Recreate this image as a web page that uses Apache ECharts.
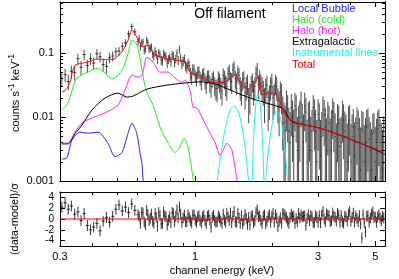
<!DOCTYPE html>
<html><head><meta charset="utf-8">
<script src="https://cdn.jsdelivr.net/npm/echarts@6/dist/echarts.min.js"></script>
<style>html,body{margin:0;padding:0;background:#fff}#c{width:399px;height:279px}</style>
</head><body><div id="c"></div>
<script>
// ---- axis ranges and ticks ----
const xRange = [0.3, 5.45];
const yRange = [0.001, 0.63];
const resRange = [-5, 5];
const xTickValues = [0.3, 1, 3, 5];
const xTickLabels = ['0.3', '1', '3', '5'];
const xMinorTicks = [0.4, 0.5, 0.6, 0.7, 0.8, 0.9, 2, 4];
const yTickValues = [0.001, 0.01, 0.1];
const yTickLabels = ['0.001', '0.01', '0.1'];
const yMinorTicks = [0.002,0.003,0.004,0.005,0.006,0.007,0.008,0.009,0.02,0.03,0.04,0.05,0.06,0.07,0.08,0.09,0.2,0.3,0.4,0.5,0.6];
const resTickValues = [-4, -2, 0, 2, 4];
const resTickLabels = ['-4', '-2', '0', '2', '4'];
const resZero = 0;

// ---- model components (energy keV, counts/s/keV) ----
const lbE = [0.305,0.319,0.334,0.359,0.385,0.421,0.460,0.490,0.522,0.550,0.570,0.590,0.602,0.613,0.624,0.629,0.640];
const lbV = [0.0022,0.0023,0.0044,0.0058,0.0056,0.0058,0.0039,0.0024,0.0028,0.0055,0.0080,0.0062,0.0044,0.0027,0.0018,0.0011,0.0006];
const hcE = [0.305,0.322,0.334,0.349,0.385,0.421,0.448,0.477,0.522,0.551,0.570,0.597,0.629,0.641,0.658,0.688,0.732,0.787,0.837,0.875,0.907,0.940,0.983,1.0];
const hcV = [0.0129,0.0166,0.0264,0.0407,0.0505,0.0583,0.0487,0.0393,0.0542,0.100,0.160,0.133,0.045,0.030,0.022,0.0155,0.0070,0.0039,0.0028,0.0034,0.0047,0.0034,0.0011,0.0006];
const hhE = [0.305,0.322,0.343,0.365,0.399,0.448,0.503,0.536,0.570,0.602,0.624,0.652,0.688,0.732,0.787,0.837,0.891,0.916,0.957,0.983,1.019,1.066,1.144,1.197,1.251,1.332,1.368,1.393,1.456,1.48];
const hhV = [0.0039,0.0039,0.0058,0.0081,0.0097,0.0116,0.0154,0.0264,0.0453,0.0422,0.0453,0.0866,0.0723,0.0505,0.0505,0.0407,0.0352,0.0379,0.0264,0.0143,0.0138,0.0098,0.0056,0.0040,0.0025,0.0039,0.0034,0.0030,0.00104,0.0007];
const egE = [0.305,0.322,0.343,0.365,0.399,0.448,0.503,0.546,0.570,0.586,0.652,0.779,0.907,1.047,1.197,1.368,1.635,1.955,2.176,2.230,2.296,2.337,2.444,2.555,3.054,3.651,4.365,5.08,5.45];
const egV = [0.0038,0.0038,0.0055,0.0075,0.0129,0.0198,0.0237,0.0205,0.0210,0.0220,0.0274,0.0316,0.0340,0.0355,0.0330,0.0265,0.0198,0.0160,0.0138,0.0125,0.0100,0.0090,0.0081,0.0078,0.0067,0.0052,0.0039,0.0030,0.0026];
const ilE = [1.190,1.218,1.258,1.298,1.338,1.378,1.418,1.458,1.498,1.538,1.578,1.618,1.656,1.681,1.706,1.731,1.756,1.781,1.806,1.831,1.856,1.860,1.900,1.940,1.980,2.020,2.060,2.100,2.140,2.180,2.220,2.260,2.300];
const ilV = [0.0003,0.00094,0.0025,0.0055,0.0096,0.0133,0.0149,0.0133,0.0096,0.0055,0.0025,0.00094,0.00075,0.0034,0.010,0.019,0.0237,0.019,0.010,0.0034,0.00075,0.00068,0.0018,0.0038,0.0068,0.0100,0.0121,0.0121,0.0100,0.0068,0.0038,0.0018,0.00068];
const totE = [0.305,0.319,0.328,0.343,0.382,0.421,0.460,0.481,0.522,0.551,0.570,0.590,0.613,0.630,0.652,0.700,0.766,0.837,0.916,0.957,1.047,1.197,1.308,1.380,1.430,1.470,1.523,1.606,1.700,1.756,1.790,1.820,1.920,2.044,2.137,2.235,2.330,2.444,2.555,3.054,3.651,4.365,5.08,5.45];
const totV = [0.024,0.028,0.035,0.064,0.072,0.081,0.079,0.080,0.105,0.16,0.23,0.19,0.143,0.125,0.133,0.093,0.0835,0.0778,0.0723,0.0505,0.044,0.034,0.0352,0.042,0.0453,0.040,0.0316,0.0274,0.033,0.0422,0.032,0.0221,0.0237,0.0237,0.0172,0.0108,0.0092,0.0084,0.0078,0.0067,0.0052,0.0039,0.0031,0.0026];

// ---- observed spectrum: bin energy, rate, 1-sigma error ----
const dataE = [
0.305,0.314,0.323,0.332,0.342,0.352,0.362,0.372,0.383,0.394,0.405,0.417,0.429,0.441,0.454,0.467,0.480,0.494,0.508,0.523,0.538,0.553,0.569,0.585,0.602,
0.608,0.615,0.622,0.629,0.636,0.643,0.650,0.657,0.664,0.671,0.678,0.686,0.693,0.701,0.708,0.716,0.724,0.732,0.740,0.748,0.756,0.764,0.772,0.781,0.789,0.798,0.807,0.816,0.825,0.834,0.843,0.852,0.861,0.871,0.880,0.890,0.900,0.910,0.920,0.930,0.940,0.950,0.960,0.971,0.981,0.992,1.003,1.014,1.025,1.036,1.047,1.059,1.070,1.082,1.094,1.106,1.118,1.130,1.142,1.155,1.167,1.180,1.193,1.206,
1.219,1.232,1.245,1.259,1.273,1.287,1.301,1.315,1.329,1.344,1.358,1.373,1.388,1.403,1.418,1.434,1.450,1.466,1.482,1.498,1.514,1.531,1.547,1.564,1.581,1.598,1.615,1.633,1.651,1.669,1.687,1.706,1.724,1.743,1.762,1.781,1.800,1.820,1.840,1.860,
1.880,1.901,1.922,1.943,1.964,1.986,2.007,2.029,2.051,2.074,2.096,2.119,2.142,2.166,2.189,2.213,2.237,2.262,2.287,2.312,2.337,2.362,2.388,2.414,2.440,2.467,2.494,2.521,2.549,2.577,2.605,2.633,2.662,2.691,2.720,2.750,2.780,2.810,2.841,2.872,
2.903,2.935,2.967,3.000,3.032,3.065,3.099,3.133,3.167,3.201,3.236,3.272,3.307,3.343,3.380,3.417,3.454,3.492,3.530,3.568,3.607,3.647,3.687,3.727,3.767,3.808,3.850,3.892,3.934,3.977,4.020,4.064,4.109,4.154,4.199,4.245,4.291,4.338,4.385,4.433,
4.481,4.530,4.580,4.630,4.680,4.731,4.783,4.835,4.888,4.941,4.995,5.049,5.104,5.160,5.216,5.273,5.331,5.389];
const dataV = [
0.040,0.046,0.036,0.052,0.050,0.082,0.060,0.095,0.064,0.082,0.070,0.098,0.088,0.066,0.062,0.085,0.090,0.105,0.108,0.128,0.145,0.200,0.260,0.215,0.150,
0.170,0.128,0.145,0.150,0.112,0.118,0.160,0.145,0.118,0.120,0.125,0.098,0.090,0.108,0.095,0.080,0.102,0.096,0.078,0.076,0.098,0.092,0.088,0.070,0.080,0.086,0.074,0.095,0.090,0.072,0.082,0.100,0.078,0.115,0.085,0.068,0.075,0.082,0.064,0.060,0.070,0.064,0.048,0.042,0.056,0.055,0.044,0.040,0.050,0.052,0.041,0.036,0.046,0.048,0.037,0.033,0.043,0.044,0.034,0.030,0.039,0.042,0.031,0.028,
0.028,0.040,0.036,0.030,0.026,0.045,0.040,0.033,0.030,0.048,0.052,0.038,0.036,0.055,0.060,0.040,0.035,0.050,0.045,0.030,0.026,0.038,0.040,0.024,0.030,0.034,0.018,0.022,0.032,0.036,0.026,0.030,0.048,0.055,0.032,0.040,0.034,0.030,0.026,0.018,
0.028,0.032,0.016,0.020,0.030,0.035,0.020,0.022,0.034,0.030,0.018,0.015,0.025,0.022,0.012,0.008,0.006,0.016,0.013,0.006,0.004,0.014,0.010,0.005,0.015,0.013,0.003,0.007,0.010,0.016,0.008,0.004,0.015,0.012,0.002,0.009,0.010,0.003,0.006,0.014,
0.011,0.006,0.002,0.011,0.009,0.0025,0.005,0.013,0.011,0.007,0.003,0.010,0.008,0.003,0.006,0.012,0.010,0.005,0.002,0.009,0.008,0.0035,0.004,0.011,0.009,0.006,0.005,0.002,0.008,0.009,0.002,0.005,0.007,0.0025,0.004,0.008,0.0065,0.004,0.0015,0.0065,
0.006,0.002,0.004,0.007,0.0075,0.0045,0.003,0.0015,0.0055,0.006,0.002,0.004,0.0065,0.0075,0.004,0.003,0.0015,0.005];
const dataErr = [
0.010,0.011,0.010,0.012,0.013,0.016,0.015,0.018,0.015,0.017,0.016,0.018,0.017,0.015,0.014,0.016,0.016,0.017,0.017,0.019,0.020,0.025,0.030,0.027,0.022,
0.021,0.018,0.019,0.019,0.017,0.017,0.020,0.019,0.017,0.017,0.017,0.015,0.014,0.015,0.014,0.013,0.015,0.014,0.013,0.013,0.015,0.014,0.014,0.012,0.013,0.013,0.013,0.014,0.014,0.012,0.013,0.015,0.013,0.016,0.013,0.012,0.013,0.013,0.012,0.012,0.012,0.012,0.011,0.010,0.011,0.011,0.010,0.010,0.011,0.011,0.010,0.010,0.010,0.011,0.010,0.010,0.010,0.010,0.010,0.010,0.010,0.010,0.010,0.010,
0.011,0.012,0.012,0.011,0.011,0.013,0.013,0.012,0.012,0.013,0.014,0.012,0.013,0.014,0.015,0.013,0.013,0.014,0.013,0.012,0.011,0.012,0.012,0.011,0.012,0.012,0.010,0.011,0.012,0.012,0.011,0.012,0.014,0.015,0.013,0.014,0.012,0.012,0.011,0.010,
0.012,0.012,0.010,0.011,0.012,0.013,0.011,0.011,0.012,0.012,0.010,0.010,0.011,0.011,0.009,0.009,0.009,0.010,0.009,0.008,0.008,0.009,0.008,0.008,0.009,0.009,0.007,0.008,0.008,0.009,0.008,0.007,0.009,0.008,0.007,0.008,0.008,0.007,0.007,0.008,
0.008,0.007,0.007,0.008,0.0075,0.0065,0.007,0.008,0.0075,0.007,0.0065,0.0075,0.007,0.0065,0.0068,0.0075,0.0072,0.0065,0.006,0.007,0.007,0.006,0.0062,0.007,0.0068,0.0062,0.006,0.0058,0.0066,0.0065,0.0058,0.006,0.0064,0.0058,0.0058,0.0062,0.0062,0.0057,0.0054,0.006,
0.006,0.0055,0.0056,0.006,0.0061,0.0055,0.0053,0.005,0.0057,0.0056,0.005,0.0053,0.0058,0.0058,0.0052,0.005,0.0049,0.0052];
// ---- residuals (data-model)/sigma, same bins ----
const resV = [
2.2,3.0,1.8,2.4,0.9,1.3,-0.3,1.0,-1.2,-2.0,-1.5,-0.8,-2.2,-0.4,0.3,-0.6,0.5,1.8,2.6,1.5,2.2,1.2,2.8,1.6,0.8,
0.4,-0.8,1.2,1.1,-0.6,-1.0,1.6,0.8,-0.3,0.1,0.9,-0.4,-0.8,1.0,0.3,-1.3,1.2,0.6,-0.9,-0.8,1.3,0.6,0.4,-1.1,-0.2,0.4,-0.7,1.2,1.0,-0.5,0.5,1.7,0.2,2.2,0.9,-0.6,0.2,0.7,-0.5,-0.5,0.8,0.3,-0.3,-0.7,0.7,0.8,-0.2,-0.6,0.4,0.6,-0.3,-0.7,0.4,0.6,-0.3,-0.9,0.5,0.7,-0.2,-1.5,0.3,0.7,-0.3,-0.6,
-0.5,0.6,0.2,-0.4,-0.8,0.9,-0.2,-0.6,1.0,0.4,-0.3,1.1,-0.7,0.5,1.4,-0.5,-0.6,1.0,0.2,-0.8,0.6,-0.9,-0.3,0.8,0.1,-1.0,0.3,-1.1,0.5,0.6,-0.7,-0.3,1.2,1.7,0.4,0.6,-0.3,-0.8,0.5,0.7,
-0.9,-0.4,0.4,0.8,-0.6,0.5,1.0,-0.6,0.8,0.2,-1.4,-0.4,0.2,-0.8,1.0,0.9,0.6,0.2,-0.4,-0.8,0.3,0.9,0.4,0.5,-0.8,0.1,-0.5,1.0,0.2,0.7,0.4,0.5,0.6,-1.2,0.1,0.8,-0.3,0.6,0.5,-0.7,
-0.6,0.6,0.3,-0.6,0.6,-0.7,0.7,1.4,0.0,-0.5,0.9,0.7,0.6,-0.5,-0.3,1.1,0.5,0.3,-0.4,1.0,0.7,-0.6,0.6,-0.5,-0.8,0.5,0.4,-0.4,0.9,1.4,-0.4,0.3,1.1,-0.6,0.6,0.1,-0.5,0.6,-0.9,-3.5,
0.8,-0.7,-2.4,0.5,0.6,-0.6,0.2,0.9,1.3,0.3,0.4,-0.6,0.4,0.8,0.2,-0.3,0.5,0.2];

// ---- build ----
const L = Math.log10;
const FONT = 'Liberation Sans, Arial, Helvetica, sans-serif';
const lx = dataE.map(L);
const binLo = lx.map((v,i)=> i>0 ? (lx[i-1]+v)/2 : v-(lx[1]-lx[0])/2);
const binHi = lx.map((v,i)=> i<lx.length-1 ? (lx[i+1]+v)/2 : v+(v-lx[i-1])/2);

function nearestLabel(vals, labels){
  return function(v){ let b=0, d=1e9; vals.forEach((t,i)=>{const dd=Math.abs(t-v); if(dd<d){d=dd;b=i;}}); return labels[b]; };
}
function xAx(grid, pos, ticks, len, labels){
  return {type:'value', gridIndex:grid, position:pos, min:L(xRange[0]), max:L(xRange[1]),
    axisLine:{show:true, onZero:false, lineStyle:{color:'#000', width:1}},
    axisTick:{show:true, inside:true, length:len, customValues:ticks.map(L), lineStyle:{color:'#000', width:1}},
    axisLabel: labels ? {show:true, customValues:xTickValues.map(L), formatter:nearestLabel(xTickValues.map(L), xTickLabels),
      margin:5, color:'#000', fontSize:11, fontFamily:FONT, hideOverlap:false} : {show:false},
    splitLine:{show:false}};
}
function yAx(grid, pos, min, max, ticks, len, labelVals, labelTexts, fs){
  return {type:'value', gridIndex:grid, position:pos, min:min, max:max,
    axisLine:{show:true, onZero:false, lineStyle:{color:'#000', width:1}},
    axisTick:{show:true, inside:true, length:len, customValues:ticks, lineStyle:{color:'#000', width:1}},
    axisLabel: labelVals ? {show:true, customValues:labelVals, formatter:nearestLabel(labelVals, labelTexts),
      margin:6, color:'#000', fontSize:fs||11, lineHeight:fs||11, fontFamily:FONT, hideOverlap:false, showMinLabel:true, showMaxLabel:true} : {show:false},
    splitLine:{show:false}};
}
const yMin = L(yRange[0]), yMax = L(yRange[1]);
const xAxes = [
  xAx(0,'bottom',xTickValues,5,false), xAx(0,'bottom',xMinorTicks,3,false),
  xAx(0,'top',xTickValues,5,false), xAx(0,'top',xMinorTicks,3,false),
  xAx(1,'bottom',xTickValues,5,true), xAx(1,'bottom',xMinorTicks,3,false),
  xAx(1,'top',xTickValues,5,false), xAx(1,'top',xMinorTicks,3,false)
];
const yAxes = [
  yAx(0,'left',yMin,yMax,yTickValues.map(L),6,yTickValues.map(L),yTickLabels),
  yAx(0,'left',yMin,yMax,yMinorTicks.map(L),3),
  yAx(0,'right',yMin,yMax,yTickValues.map(L),6),
  yAx(0,'right',yMin,yMax,yMinorTicks.map(L),3),
  yAx(1,'left',resRange[0],resRange[1],resTickValues,5,resTickValues,resTickLabels,10),
  yAx(1,'right',resRange[0],resRange[1],resTickValues,5)
];

function lineSeries(name, E, V, color){
  return {name, type:'line', xAxisIndex:0, yAxisIndex:0, data:E.map((e,i)=>[L(e), L(V[i])]),
    showSymbol:false, symbol:'none', smooth:0.25, clip:true, z:5,
    lineStyle:{color, width:1}, silent:true};
}
function makeErrRender(color){
  return function(params, api){
    const cs = params.coordSys;
    const clampY = y => Math.max(cs.y, Math.min(cs.y+cs.height, y));
    const c = api.coord([api.value(0), api.value(1)]);
    const t = api.coord([api.value(0), api.value(2)]);
    const b = api.coord([api.value(0), api.value(3)]);
    const l = api.coord([api.value(4), api.value(1)]);
    const r = api.coord([api.value(5), api.value(1)]);
    const st = {stroke:color, lineWidth:1};
    const ch = [{type:'line', shape:{x1:c[0], y1:clampY(t[1]), x2:c[0], y2:clampY(b[1])}, style:st}];
    if (c[1] >= cs.y && c[1] <= cs.y+cs.height) ch.push({type:'line', shape:{x1:l[0], y1:c[1], x2:r[0], y2:c[1]}, style:st});
    return {type:'group', children:ch};
  };
}
const specData = dataE.map((e,i)=>{
  const v = dataV[i], s = dataErr[i];
  return [lx[i], L(v), L(v+s), (v-s>0 ? L(v-s) : yMin-1), binLo[i], binHi[i]];
});
const resData = dataE.map((e,i)=>[lx[i], resV[i], resV[i]+1, resV[i]-1, binLo[i], binHi[i]]);

const legendItems = [['Local Bubble','#2222ff'],['Halo (cold)','#22ee22'],['Halo (hot)','#ff22ff'],['Extragalactic','#000000'],['Instrumental lines','#22eeee'],['Total','#ff0000']];
const ctr = {align:'center', verticalAlign:'middle', textAlign:'center', textVerticalAlign:'middle'};
const graphics = [
  {type:'text', x:230, y:14, style:Object.assign({text:'Off filament', font:'14px '+FONT, fill:'#000'}, ctr)},
  {type:'text', x:14, y:93, rotation:Math.PI/2, style:Object.assign({text:'{a|counts s}{b|-1}{a| keV}{b|-1}', fill:'#000',
     rich:{a:{fontSize:11, fontFamily:FONT, lineHeight:14, verticalAlign:'bottom', fill:'#000'}, b:{fontSize:8.5, fontFamily:FONT, lineHeight:9, verticalAlign:'top', fill:'#000'}}}, ctr)},
  {type:'text', x:15, y:219, rotation:Math.PI/2, style:Object.assign({text:'(data-model)/\u03C3', font:'11px '+FONT, fill:'#000'}, ctr)},
  {type:'text', x:222, y:271, style:Object.assign({text:'channel energy (keV)', font:'11px '+FONT, fill:'#000'}, ctr)}
];
legendItems.forEach((it,i)=>{
  graphics.push({type:'text', x:292, y:9+11.1*i, style:{text:it[0], font:'11px '+FONT, fill:it[1], align:'left', verticalAlign:'middle', textAlign:'left', textVerticalAlign:'middle'}});
});

const option = {
  animation:false,
  backgroundColor:'#fff',
  grid:[{left:60, top:2, width:325, height:179}, {left:60, top:192, width:325, height:54}],
  xAxis:xAxes, yAxis:yAxes,
  graphic:graphics,
  series:[
    {name:'data', type:'custom', xAxisIndex:0, yAxisIndex:0, renderItem:makeErrRender('rgba(0,0,0,0.7)'), data:specData, clip:true, z:2, silent:true, encode:{x:0, y:1}},
    lineSeries('Local Bubble', lbE, lbV, '#2222ff'),
    lineSeries('Halo (cold)', hcE, hcV, '#22ee22'),
    lineSeries('Halo (hot)', hhE, hhV, '#ff22ff'),
    lineSeries('Extragalactic', egE, egV, '#000000'),
    lineSeries('Instrumental lines', ilE, ilV, '#22eeee'),
    lineSeries('Total', totE, totV, '#ff0000'),
    {name:'residuals', type:'custom', xAxisIndex:4, yAxisIndex:4, renderItem:makeErrRender('rgba(0,0,0,0.8)'), data:resData, clip:true, z:2, silent:true, encode:{x:0, y:1}},
    {name:'zero', type:'line', xAxisIndex:4, yAxisIndex:4, data:[[L(xRange[0]), resZero], [L(xRange[1]), resZero]],
      showSymbol:false, symbol:'none', z:6, silent:true, lineStyle:{color:'#ff0000', width:1}}
  ]
};
const chart = echarts.init(document.getElementById('c'), null, {renderer:'canvas', width:399, height:279});
chart.setOption(option);
</script></body></html>
